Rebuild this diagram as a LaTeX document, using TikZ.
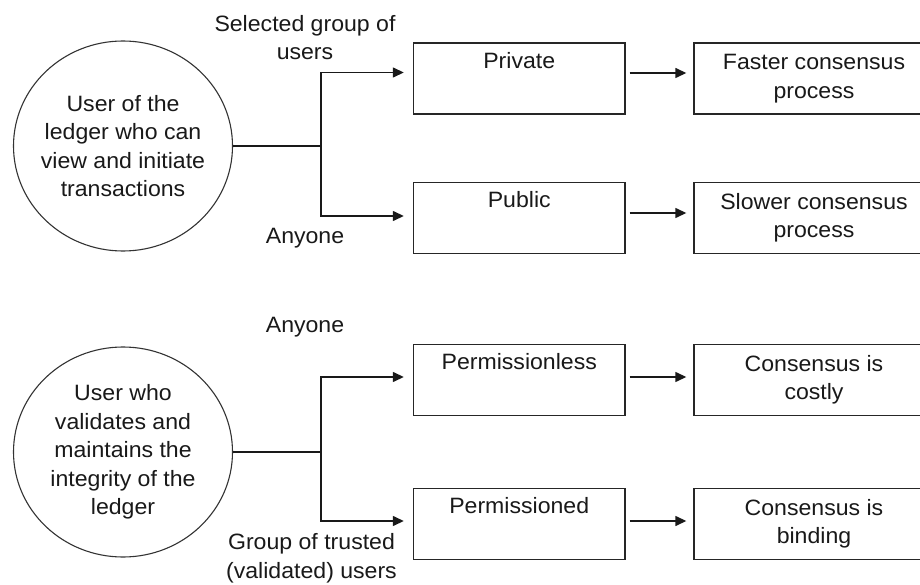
\documentclass[tikz,border=0pt]{standalone}
\usepackage{fontspec}
\setmainfont{Liberation Sans}[FakeStretch=1.04]
\usetikzlibrary{shapes.geometric,arrows.meta}
\begin{document}
\begin{tikzpicture}[x=1pt,y=-1pt,
  every node/.style={font=\fontsize{22.2}{28.5}\selectfont, text=black!90},
  usernode/.style={draw=black!80, line width=1.1pt, ellipse, minimum width=219pt,
    minimum height=210pt, inner sep=0pt},
  inner/.style={align=center, inner sep=0pt},
  kindbox/.style={draw=black!85, line width=1.4pt, minimum width=211.5pt,
    minimum height=71pt, align=center, inner sep=0pt},
  resultbox/.style={kindbox, minimum width=240pt},
  edgelabel/.style={align=center, inner sep=0pt},
  wire/.style={line width=1.4pt, draw=black!90},
  arr/.style={wire, -{Triangle[length=11pt,width=10pt]}}
]
\useasboundingbox (0,0) rectangle (920,585);
\fill[white] (0,0) rectangle (920,585);
\clip (0,0) rectangle (920,585);

% ---- who can use the ledger ----
\node[usernode, label={[inner]center:User of the\\ledger who can\\view and initiate\\transactions}] (u1) at (123,146) {};
\node[kindbox] (priv) at (519.25,78.5) {Private\\\strut};
\node[kindbox] (pub) at (519.25,218) {Public\\\strut};
\node[resultbox] (fast) at (814,78.5) {Faster consensus\\process};
\node[resultbox] (slow) at (814,218) {Slower consensus\\process};
\node[edgelabel] (l1) at (305,37.5) {Selected group of\\users};
\node[edgelabel] (l2) at (305,238) {Anyone};

\path (u1.east) -- ++(88,0) coordinate (j1);
\draw[wire] (u1.east) -- (j1);
\draw[arr] (j1) |- ([yshift=6pt,xshift=-9pt]priv.west);
\draw[arr] (j1) |- ([yshift=2pt,xshift=-9pt]pub.west);
\draw[arr] ([yshift=5.5pt,xshift=4pt]priv.east) -- ([yshift=5.5pt,xshift=-7pt]fast.west);
\draw[arr] ([yshift=5pt,xshift=4pt]pub.east) -- ([yshift=5pt,xshift=-7pt]slow.west);

% ---- who can validate the ledger ----
\node[usernode, label={[inner]center:User who\\validates and\\maintains the\\integrity of the\\ledger}] (u2) at (123,452) {};
\node[kindbox] (pless) at (519.25,380) {Permissionless\\\strut};
\node[kindbox] (pned) at (519.25,524) {Permissioned\\\strut};
\node[resultbox] (costly) at (814,380) {Consensus is\\costly};
\node[resultbox] (binding) at (814,524) {Consensus is\\binding};
\node[edgelabel] (l3) at (305,327) {Anyone};
\node[edgelabel] (l4) at (311.5,558.5) {Group of trusted\\(validated) users};

\path (u2.east) -- ++(88,0) coordinate (j2);
\draw[wire] (u2.east) -- (j2);
\draw[arr] (j2) |- ([yshift=3pt,xshift=-9pt]pless.west);
\draw[arr] (j2) |- ([yshift=3pt,xshift=-9pt]pned.west);
\draw[arr] ([yshift=3pt,xshift=4pt]pless.east) -- ([yshift=3pt,xshift=-7pt]costly.west);
\draw[arr] ([yshift=3pt,xshift=4pt]pned.east) -- ([yshift=3pt,xshift=-7pt]binding.west);
\end{tikzpicture}
\end{document}
